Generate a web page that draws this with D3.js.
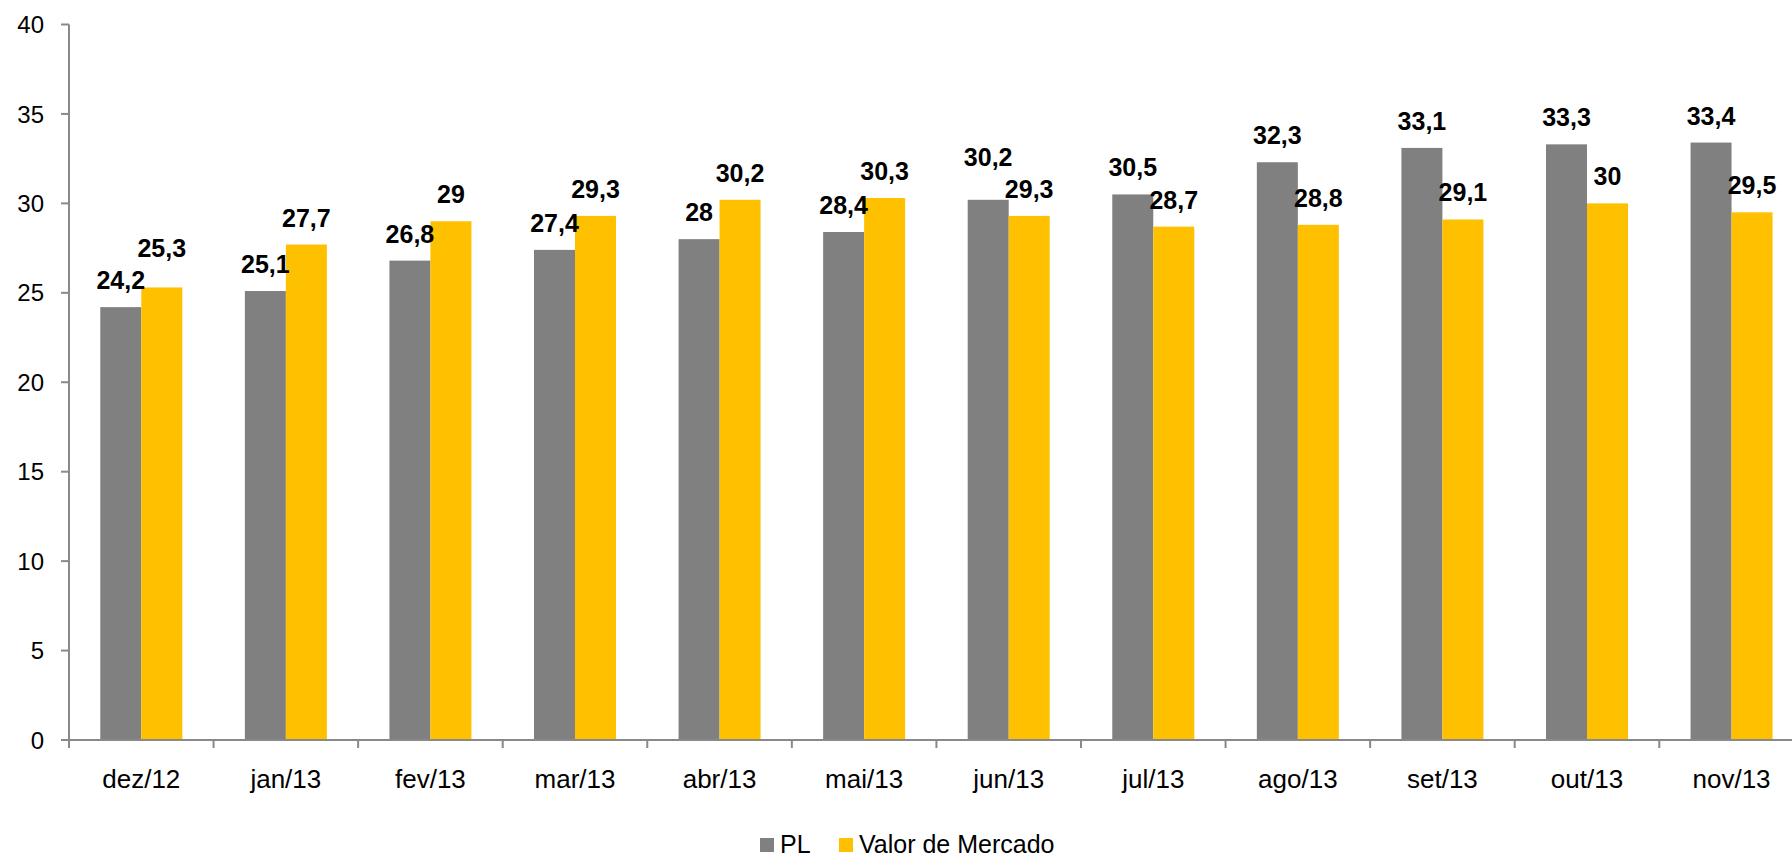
<!DOCTYPE html>
<html lang="pt">
<head>
    <meta charset="UTF-8">
    <title>PL x Valor de Mercado</title>
    <script src="https://d3js.org/d3.v7.min.js"></script>
    <style>
        body {
            margin: 0;
            background: #fff;
            font-family: "Liberation Sans", Arial, sans-serif;
        }
        .tick-label {
            font-size: 24px;
            fill: #000;
        }
        .x-label {
            font-size: 26px;
        }
        .value-label {
            font-size: 25px;
            font-weight: bold;
            fill: #000;
        }
        .legend text {
            font-size: 25px;
        }
    </style>
</head>
<body>
    <div id="chart"></div>

    <script>
        const months = ["dez/12", "jan/13", "fev/13", "mar/13", "abr/13", "mai/13",
                        "jun/13", "jul/13", "ago/13", "set/13", "out/13", "nov/13"];
        const seriesNames = ["PL", "Valor de Mercado"];
        const pl = [24.2, 25.1, 26.8, 27.4, 28, 28.4, 30.2, 30.5, 32.3, 33.1, 33.3, 33.4];
        const valorMercado = [25.3, 27.7, 29, 29.3, 30.2, 30.3, 29.3, 28.7, 28.8, 29.1, 30, 29.5];
        const yTicks = [0, 5, 10, 15, 20, 25, 30, 35, 40];

        const width = 1792,
            height = 859,
            plotLeft = 69,
            plotTop = 24.5,
            plotBottom = 740,
            bandWidth = 144.57;

        const colors = {"PL": "#808080", "Valor de Mercado": "#FFC000"};
        const axisColor = "#898989";

        const rows = months.map((m, i) => ({
            month: m,
            values: [
                {series: "PL", value: pl[i]},
                {series: "Valor de Mercado", value: valorMercado[i]}
            ]
        }));

        const svg = d3.select("#chart").append("svg")
            .attr("width", width)
            .attr("height", height);

        const x0 = d3.scaleBand()
            .domain(months)
            .range([plotLeft, plotLeft + bandWidth * months.length])
            .padding(0);

        const x1 = d3.scaleBand()
            .domain(seriesNames)
            .range([0, x0.bandwidth()])
            .paddingInner(0)
            .paddingOuter(0.763);

        const y = d3.scaleLinear()
            .domain([0, 40])
            .range([plotBottom, plotTop]);

        // bars
        const groups = svg.append("g")
            .selectAll("g")
            .data(rows)
            .join("g")
            .attr("transform", d => `translate(${x0(d.month)},0)`);

        groups.selectAll("rect")
            .data(d => d.values)
            .join("rect")
            .attr("x", d => x1(d.series))
            .attr("y", d => y(d.value))
            .attr("width", x1.bandwidth())
            .attr("height", d => y(0) - y(d.value))
            .attr("fill", d => colors[d.series]);

        // y axis
        const yAxis = svg.append("g");
        yAxis.append("line")
            .attr("x1", plotLeft).attr("x2", plotLeft)
            .attr("y1", y(40)).attr("y2", y(0))
            .attr("stroke", axisColor).attr("stroke-width", 2);
        yAxis.selectAll(".ytick")
            .data(yTicks)
            .join("line")
            .attr("x1", plotLeft - 8).attr("x2", plotLeft)
            .attr("y1", d => y(d)).attr("y2", d => y(d))
            .attr("stroke", axisColor).attr("stroke-width", 2);
        yAxis.selectAll("text")
            .data(yTicks)
            .join("text")
            .attr("class", "tick-label")
            .attr("x", plotLeft - 25)
            .attr("y", d => y(d))
            .attr("dy", "0.36em")
            .attr("text-anchor", "end")
            .text(d => d);

        // x axis
        const xAxis = svg.append("g");
        xAxis.append("line")
            .attr("x1", plotLeft - 8).attr("x2", x0.range()[1])
            .attr("y1", y(0)).attr("y2", y(0))
            .attr("stroke", axisColor).attr("stroke-width", 2);
        const bounds = months.map(m => x0(m)).concat([x0.range()[1]]);
        xAxis.selectAll(".xtick")
            .data(bounds)
            .join("line")
            .attr("x1", d => d).attr("x2", d => d)
            .attr("y1", y(0)).attr("y2", y(0) + 8)
            .attr("stroke", axisColor).attr("stroke-width", 2);
        xAxis.selectAll("text")
            .data(months)
            .join("text")
            .attr("class", "tick-label x-label")
            .attr("x", d => x0(d) + x0.bandwidth() / 2)
            .attr("y", 788)
            .attr("text-anchor", "middle")
            .text(d => d);

        // value labels, nudged up when the pair would collide
        const fmt = v => String(v).replace(".", ",");
        rows.forEach(r => {
            const labels = r.values.map(v => {
                const t = svg.append("text")
                    .attr("class", "value-label")
                    .attr("text-anchor", "middle")
                    .attr("x", x0(r.month) + x1(v.series) + x1.bandwidth() / 2)
                    .text(fmt(v.value));
                return {node: t, v: v, base: y(v.value) - 18, w: t.node().getBBox().width};
            });
            const [a, b] = labels;
            const dx = Math.abs(x1(a.v.series) - x1(b.v.series));
            const overlapX = (a.w + b.w) / 2 + 4 > dx;
            if (overlapX && Math.abs(a.base - b.base) < 32) {
                const hi = a.base < b.base ? a : b;
                const lo = hi === a ? b : a;
                hi.base = lo.base - 32;
            }
            labels.forEach(l => l.node.attr("y", l.base));
        });

        // legend
        const legend = svg.append("g").attr("class", "legend");
        const legendItems = [
            {name: "PL", x: 760},
            {name: "Valor de Mercado", x: 839}
        ];
        legend.selectAll("rect")
            .data(legendItems)
            .join("rect")
            .attr("x", d => d.x)
            .attr("y", 838)
            .attr("width", 14)
            .attr("height", 14)
            .attr("fill", d => colors[d.name]);
        legend.selectAll("text")
            .data(legendItems)
            .join("text")
            .attr("x", d => d.x + 20)
            .attr("y", 853)
            .text(d => d.name);
    </script>
</body>
</html>
